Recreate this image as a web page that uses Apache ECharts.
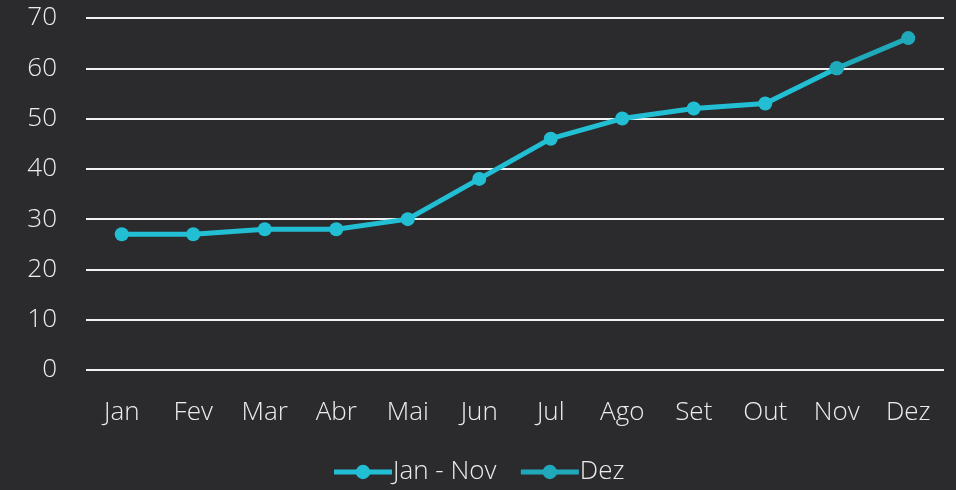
<!DOCTYPE html>
<html>
<head>
<meta charset="utf-8">
<script src="https://cdn.jsdelivr.net/npm/echarts@6/dist/echarts.min.js"></script>
<style>
  html, body { margin: 0; padding: 0; background: #2b2b2d; }
  #chart { width: 956px; height: 490px; }
</style>
</head>
<body>
<div id="chart"></div>
<script>
// chart data
const months = ['Jan', 'Fev', 'Mar', 'Abr', 'Mai', 'Jun', 'Jul', 'Ago', 'Set', 'Out', 'Nov', 'Dez']
const janNov = [27, 27, 28, 28, 30, 38, 46, 50, 52, 53, 60, null]
const dez = [null, null, null, null, null, null, null, null, null, null, 60, 66]

const chart = echarts.init(document.getElementById('chart'))
const font = "'Open Sans', sans-serif"

chart.setOption({
  backgroundColor: '#2b2b2d',
  textStyle: { fontFamily: font },
  grid: {
    top: 18,
    left: 86,
    right: 12,
    bottom: 120
  },
  legend: {
    bottom: 0,
    left: 'center',
    itemWidth: 58,
    itemHeight: 18,
    itemGap: 22,
    lineStyle: { width: 5 },
    textStyle: { color: '#ececec', fontSize: 26, fontWeight: 300, fontFamily: font, padding: [0, 0, 0, -4] },
    data: ['Jan - Nov', 'Dez']
  },
  xAxis: {
    type: 'category',
    data: months,
    boundaryGap: true,
    axisLine: { show: false },
    axisTick: { show: false },
    axisLabel: { color: '#ececec', fontSize: 26, fontWeight: 300, margin: 30 }
  },
  yAxis: {
    type: 'value',
    min: 0,
    max: 70,
    interval: 10,
    axisLine: { show: false },
    axisTick: { show: false },
    axisLabel: { color: '#ececec', fontSize: 26, fontWeight: 300, margin: 29 },
    splitLine: { lineStyle: { color: '#f2f2f2', width: 2 } }
  },
  series: [
    {
      name: 'Jan - Nov',
      type: 'line',
      data: janNov,
      symbol: 'circle',
      symbolSize: 14,
      color: '#22bfd4',
      lineStyle: { width: 5 },
      animation: false
    },
    {
      name: 'Dez',
      type: 'line',
      data: dez,
      symbol: 'circle',
      symbolSize: 14,
      color: '#20a9bb',
      lineStyle: { width: 5 },
      animation: false
    }
  ]
})
</script>
</body>
</html>
